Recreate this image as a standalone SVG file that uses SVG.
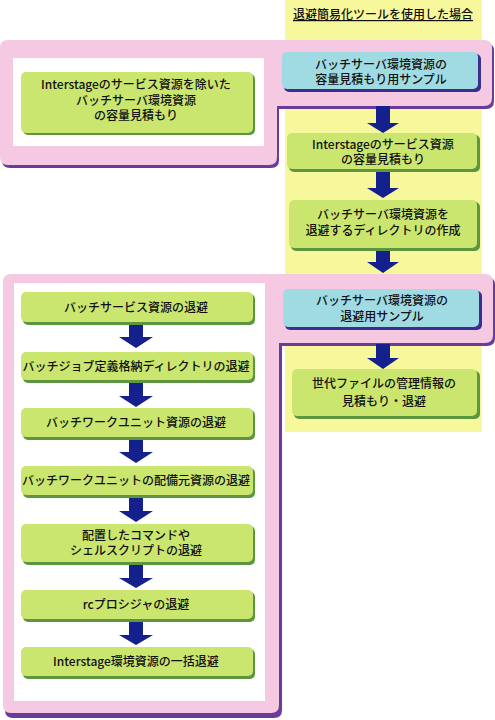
<svg xmlns="http://www.w3.org/2000/svg" width="495" height="720" viewBox="0 0 495 720">
<style>
text{font-family:"Noto Sans CJK JP","Noto Sans",sans-serif;font-size:12px;font-weight:500;fill:#111;text-anchor:middle}
.g{fill:#cbe66f}
.gs{fill:#5e9640}
.b{fill:#a0dbe4}
.bs{fill:#3a2f8e}
.pk{fill:#f4c9e1}
.ps{fill:#6a3b9c}
.wh{fill:#ffffff}
.ar{fill:#14218c}
</style>
<rect x="285" y="0" width="197" height="432" fill="#f7f89b"/>
<text x="383" y="19" text-decoration="underline">退避簡易化ツールを使用した場合</text>

<g id="frame1">
<path class="ps" d="M 10,43 H 486 Q 494,43 494,51 V 101 Q 494,109 486,109 H 279 V 160 Q 279,168 271,168 H 10 Q 2,168 2,160 V 51 Q 2,43 10,43 Z"/>
<path class="pk" d="M 8,40 H 484 Q 492,40 492,48 V 98 Q 492,106 484,106 H 277 V 157 Q 277,165 269,165 H 8 Q 0,165 0,157 V 48 Q 0,40 8,40 Z"/>
<rect class="wh" x="13" y="58" width="251" height="88"/>
</g>
<g id="frame2">
<path class="ps" d="M 13,277 H 487 Q 495,277 495,285 V 338 Q 495,346 487,346 H 282 V 710 Q 282,718 274,718 H 13 Q 5,718 5,710 V 285 Q 5,277 13,277 Z"/>
<path class="pk" d="M 11,274 H 485 Q 493,274 493,282 V 335 Q 493,343 485,343 H 279 V 705 Q 279,713 271,713 H 11 Q 3,713 3,705 V 282 Q 3,274 11,274 Z"/>
<rect class="wh" x="14" y="283" width="251" height="418"/>
</g>

<g id="connectors">
<polygon class="ar" points="376,106 390,106 390,123 399,123 383,133 367,123 376,123"/>
<polygon class="ar" points="376,171 390,171 390,188 399,188 383,198 367,188 376,188"/>
<polygon class="ar" points="376,249 390,249 390,262 399,262 383,273 367,262 376,262"/>
<polygon class="ar" points="376,344 390,344 390,358 399,358 383,369 367,358 376,358"/>
<polygon class="ar" points="129,323 143,323 143,337 153,337 136,348 119,337 129,337"/>
<polygon class="ar" points="129,381 143,381 143,396 153,396 136,407 119,396 129,396"/>
<polygon class="ar" points="129,438 143,438 143,452 153,452 136,463 119,452 129,452"/>
<polygon class="ar" points="129,496 143,496 143,511 153,511 136,522 119,511 129,511"/>
<polygon class="ar" points="129,563 143,563 143,578 153,578 136,588 119,578 129,578"/>
<polygon class="ar" points="129,620 143,620 143,635 153,635 136,645 119,635 129,635"/>
</g>

<g id="n-sample1">
<rect class="bs" x="284" y="54" width="197" height="38" rx="5"/>
<rect class="b" x="282" y="52" width="196" height="37" rx="5"/>
<text x="381" y="68.5">バッチサーバ環境資源の</text>
<text x="381" y="84">容量見積もり用サンプル</text>
</g>
<g id="n-left">
<rect class="gs" x="23" y="74" width="232" height="61" rx="5"/>
<rect class="g" x="21" y="72" width="232" height="61" rx="5"/>
<text x="136" y="89">Interstageのサービス資源を除いた</text>
<text x="136" y="104.5">バッチサーバ環境資源</text>
<text x="136" y="120">の容量見積もり</text>
</g>
<g id="n-is">
<rect class="gs" x="289" y="135" width="191" height="37" rx="5"/>
<rect class="g" x="287" y="133" width="190" height="36" rx="5"/>
<text x="383" y="148.5">Interstageのサービス資源</text>
<text x="383" y="164">の容量見積もり</text>
</g>
<g id="n-dir">
<rect class="gs" x="291" y="202" width="189" height="49" rx="5"/>
<rect class="g" x="289" y="200" width="188" height="48" rx="5"/>
<text x="383" y="219">バッチサーバ環境資源を</text>
<text x="383" y="234.5">退避するディレクトリの作成</text>
</g>
<g id="n-sample2">
<rect class="bs" x="285" y="291" width="197" height="39" rx="5"/>
<rect class="b" x="283" y="289" width="196" height="38" rx="5"/>
<text x="382" y="305">バッチサーバ環境資源の</text>
<text x="382" y="320.5">退避用サンプル</text>
</g>
<g id="n-gen">
<rect class="gs" x="294" y="371" width="186" height="48" rx="5"/>
<rect class="g" x="292" y="369" width="185" height="47" rx="5"/>
<text x="384" y="387.5">世代ファイルの管理情報の</text>
<text x="384" y="406">見積もり・退避</text>
</g>

<g id="n-l1">
<rect class="gs" x="23" y="294" width="232" height="31" rx="5"/>
<rect class="g" x="21" y="292" width="232" height="30" rx="5"/>
<text x="136" y="311.5">バッチサービス資源の退避</text>
</g>
<g id="n-l2">
<rect class="gs" x="23" y="354" width="232" height="29" rx="5"/>
<rect class="g" x="21" y="352" width="232" height="28" rx="5"/>
<text x="136" y="370.5">バッチジョブ定義格納ディレクトリの退避</text>
</g>
<g id="n-l3">
<rect class="gs" x="23" y="410" width="232" height="30" rx="5"/>
<rect class="g" x="21" y="408" width="232" height="29" rx="5"/>
<text x="136" y="427">バッチワークユニット資源の退避</text>
</g>
<g id="n-l4">
<rect class="gs" x="23" y="468" width="232" height="30" rx="5"/>
<rect class="g" x="21" y="466" width="232" height="29" rx="5"/>
<text x="136" y="484.5">バッチワークユニットの配備元資源の退避</text>
</g>
<g id="n-l5">
<rect class="gs" x="23" y="526" width="232" height="39" rx="5"/>
<rect class="g" x="21" y="524" width="232" height="38" rx="5"/>
<text x="136" y="539.5">配置したコマンドや</text>
<text x="136" y="555">シェルスクリプトの退避</text>
</g>
<g id="n-l6">
<rect class="gs" x="23" y="592" width="232" height="30" rx="5"/>
<rect class="g" x="21" y="590" width="232" height="29" rx="5"/>
<text x="136" y="608.5">rcプロシジャの退避</text>
</g>
<g id="n-l7">
<rect class="gs" x="23" y="649" width="232" height="30" rx="5"/>
<rect class="g" x="21" y="647" width="232" height="29" rx="5"/>
<text x="136" y="666">Interstage環境資源の一括退避</text>
</g>
</svg>
